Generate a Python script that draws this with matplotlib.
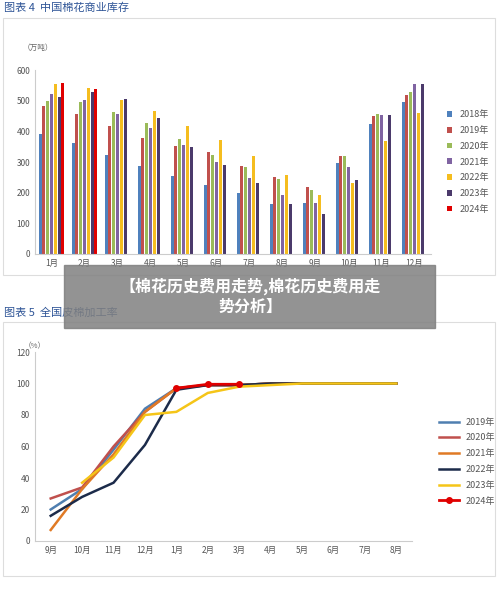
import matplotlib
matplotlib.use("Agg")
import matplotlib.pyplot as plt
import numpy as np
from matplotlib.patches import Rectangle

plt.rcParams['font.family'] = ['Noto Sans CJK SC', 'DejaVu Sans']

months1 = ['1月','2月','3月','4月','5月','6月','7月','8月','9月','10月','11月','12月']
years1 = ['2018年','2019年','2020年','2021年','2022年','2023年','2024年']
nan = np.nan
s2018 = [390,362,322,286,254,225,198,162,165,296,425,495]
s2019 = [483,456,416,378,352,333,288,251,220,321,449,517]
s2020 = [500,496,462,428,375,322,285,243,208,318,456,528]
s2021 = [523,503,456,412,357,300,249,191,165,283,453,555]
s2022 = [555,541,503,466,416,372,319,256,193,232,368,461]
s2023 = [512,529,507,443,349,290,233,163,132,240,453,553]
s2024 = [557,537,nan,nan,nan,nan,nan,nan,nan,nan,nan,nan]
bar_series = [s2018,s2019,s2020,s2021,s2022,s2023,s2024]
bar_colors = ['#4F81BD','#C0504D','#9BBB59','#8064A2','#F5BD1F','#4B3A6B','#E00000']

months2 = ['9月','10月','11月','12月','1月','2月','3月','4月','5月','6月','7月','8月']
years2 = ['2019年','2020年','2021年','2022年','2023年','2024年']
l2019 = [20,33,58,84,97,99,99,100,100,100,100,100]
l2020 = [27,34,60,82,97,99,99,100,100,100,100,100]
l2021 = [7,33,55,82,97,99,99,100,100,100,100,100]
l2022 = [16,28,37,61,96,99,99,100,100,100,100,100]
l2023 = [nan,37,53,80,82,94,98,99,100,100,100,100]
l2024 = [nan,nan,nan,nan,97,99.5,99.5,nan,nan,nan,nan,nan]
line_series = [l2019,l2020,l2021,l2022,l2023,l2024]
line_colors = ['#4F7FB0','#C0504D','#E07A25','#1C2B4A','#F5C518','#E00000']

W, H = 500, 594
fig = plt.figure(figsize=(W/100, H/100), dpi=100)
def fr(x, y, w, h):
    return [x/W, 1-(y+h)/H, w/W, h/H]

# panel frames
for (x, y, w, h) in [(3, 18, 492, 257), (3, 322, 492, 254)]:
    fig.patches.append(Rectangle((x/W, 1-(y+h)/H), w/W, h/H, transform=fig.transFigure,
                                 fill=False, ec='#dddddd', lw=0.8))
fig.text(4/W, 1-8/H, '图表 4  中国棉花商业库存', color='#2F5597', fontsize=8, va='center')
fig.text(4/W, 1-313/H, '图表 5  全国皮棉加工率', color='#2F5597', fontsize=8, va='center')

# top bars
ax = fig.add_axes(fr(35, 70, 396, 184))
x = np.arange(12)
bw = 0.115
for i, (s, c, lab) in enumerate(zip(bar_series, bar_colors, years1)):
    ax.bar(x + (i-3)*bw, s, bw*0.75, color=c, label=lab)
ax.set_ylim(0, 600)
ax.set_xlim(-0.5, 11.5)
ax.set_yticks(range(0, 601, 100))
ax.set_xticks(x, months1)
ax.tick_params(labelsize=6, colors='#555555', length=0)
for sp in ['top','right']:
    ax.spines[sp].set_visible(False)
ax.spines['left'].set_color('#cccccc'); ax.spines['bottom'].set_color('#cccccc')
ax.text(-0.03, 1.11, '（万吨）', transform=ax.transAxes, fontsize=5.5, color='#666666', ha='left')
ax.legend(loc='center left', bbox_to_anchor=(1.02, 0.5), frameon=False, fontsize=6.5,
          handlelength=0.6, handleheight=0.6, labelspacing=0.75, labelcolor='#555555')

# bottom lines
ax2 = fig.add_axes(fr(35, 352, 377, 189))
for s, c, lab in zip(line_series, line_colors, years2):
    if lab == '2024年':
        ax2.plot(x, s, color=c, lw=2, marker='o', ms=4, label=lab)
    else:
        ax2.plot(x, s, color=c, lw=1.8, label=lab)
ax2.set_ylim(0, 120)
ax2.set_xlim(-0.5, 11.5)
ax2.set_yticks(range(0, 121, 20))
ax2.set_xticks(x, months2)
ax2.tick_params(labelsize=6, colors='#555555', length=0)
for sp in ['top','right']:
    ax2.spines[sp].set_visible(False)
ax2.spines['left'].set_color('#cccccc'); ax2.spines['bottom'].set_color('#cccccc')
ax2.text(-0.03, 1.02, '（%）', transform=ax2.transAxes, fontsize=5.5, color='#666666', ha='left')
ax2.legend(loc='center left', bbox_to_anchor=(1.05, 0.42), frameon=False, fontsize=6.5,
           handlelength=2.2, labelspacing=0.75, labelcolor='#555555')

# overlay title
fig.patches.append(Rectangle((64/W, 1-328/H), 371/W, 63/H, transform=fig.transFigure,
                             color='#808080', alpha=0.85, zorder=10))
fig.text(250/W, 1-296/H, '【棉花历史费用走势,棉花历史费用走\n势分析】', color='white',
         fontsize=11.5, fontweight='bold', ha='center', va='center', zorder=11, linespacing=1.3)

fig.savefig('out.png', dpi=100)
